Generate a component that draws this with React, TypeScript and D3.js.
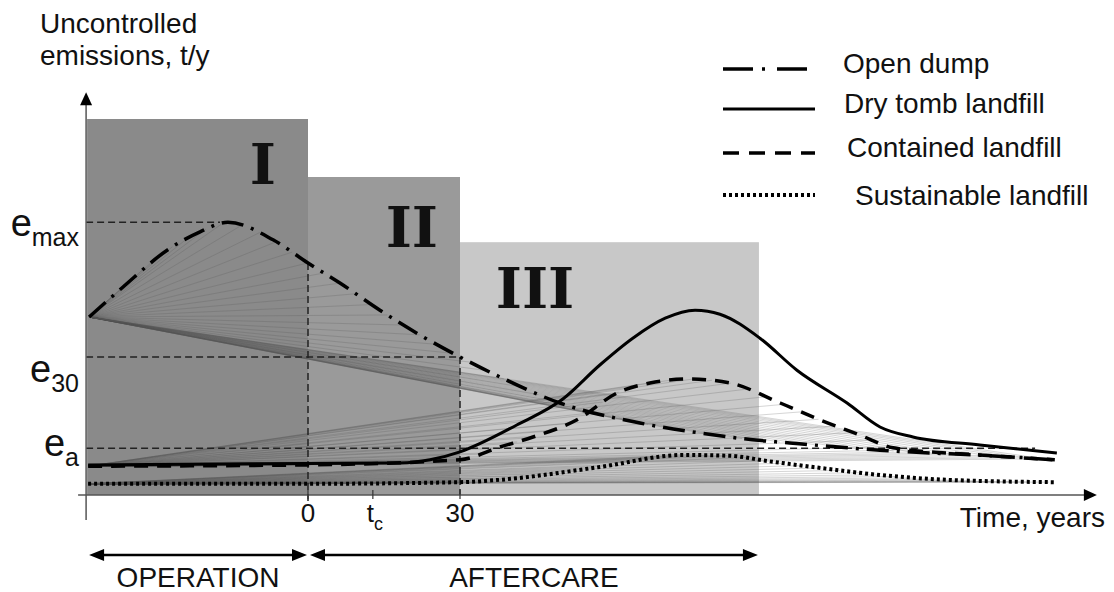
import React, { useRef, useEffect } from "react";
import * as d3 from "d3";

// time in years (0 = end of operation), emissions in arbitrary units (0-100)
const openDump = [
  [-43.2, 44.5], [-36.5, 52], [-27.8, 61.2], [-21.3, 65.8], [-15.8, 68.2],
  [-6.9, 63.8], [0, 58], [6.3, 53], [14.2, 46.2], [22.1, 40], [30, 34.5], [37.9, 29.5],
  [49.7, 23], [65.5, 18], [77.4, 15.5], [87.8, 13.8], [95.1, 13], [112.9, 11.2],
  [139.1, 9.5], [147.4, 8.8],
];
const dryTomb = [
  [-43.4, 7.5], [-11.4, 7.8], [18.2, 8], [24.1, 8.8], [30, 10.8], [41.2, 17.5], [50.3, 24],
  [57.6, 32.5], [64.1, 39.2], [70.5, 44.2], [76.4, 46.2], [81.3, 45.2], [89.2, 39.2],
  [96.5, 31.2], [106.4, 23], [112.9, 17], [119.4, 14.5], [132.6, 12.5], [147.8, 10.5],
];
const contained = [
  [-43.4, 7.2], [-1.6, 7.5], [30, 8.8], [37.9, 12], [44.4, 14.5], [53.1, 18.8], [61, 25.5],
  [67.5, 28], [75.4, 29], [83.3, 28], [93.2, 23], [101, 18.8], [108.9, 15], [115.5, 11.8],
  [132.6, 10], [147.4, 8.8],
];
const sustainable = [
  [-43.4, 2.8], [-1.6, 2.8], [30, 3.2], [37.9, 3.8], [57.6, 7], [74, 10], [83.3, 9.8],
  [90.6, 8.5], [99.7, 7], [112.9, 5], [126.1, 3.8], [147.4, 3.2],
];

const seriesNames = ["Open dump", "Dry tomb landfill", "Contained landfill", "Sustainable landfill"];
const seriesData = [openDump, dryTomb, contained, sustainable];

const phaseNames = ["I", "II", "III"];
const phaseStart = [-43.6, 0, 30];
const phaseEnd = [0, 30, 89];
const phaseTop = [94, 79.5, 63.2];

const eMax = 68.2;
const e30 = 34.5;
const eA = 11.7;
const eAEnd = 143.5;
const tC = 12.8;
const timeEnd = 155.7;
const axisTop = 100.7;

export default function App() {
  const svgRef = useRef(null);

  useEffect(() => {
    document.body.style.margin = "0";
    const svg = d3.select(svgRef.current);
    svg.selectAll("*").remove();

    const width = 1114;
    const height = 592;
    const font = "'Liberation Sans', Arial, sans-serif";

    const x = d3.scaleLinear().domain([0, 30]).range([308, 460]);
    const y = d3.scaleLinear().domain([0, 100]).range([495, 95]);
    const x0 = x(phaseStart[0]) - 1;
    const y0 = y(0);

    svg.attr("width", width).attr("height", height);

    // phases
    const fills = ["#8a8a8a", "#9a9a9a", "#c8c8c8"];
    phaseNames.forEach((p, i) => {
      svg.append("rect")
        .attr("x", x(phaseStart[i]))
        .attr("y", y(phaseTop[i]))
        .attr("width", x(phaseEnd[i]) - x(phaseStart[i]))
        .attr("height", y0 - y(phaseTop[i]))
        .attr("fill", fills[i]);
    });

    const labelT = [-8.9, 20.5, 44.8];
    const labelE = [77.8, 62, 46.8];
    phaseNames.forEach((p, i) => {
      svg.append("text")
        .attr("x", x(labelT[i]))
        .attr("y", y(labelE[i]))
        .attr("text-anchor", "middle")
        .style("font-family", "'DejaVu Serif', serif")
        .style("font-weight", "bold")
        .style("font-size", "56px")
        .attr("fill", "#111")
        .text(p);
    });

    const gFan = svg.append("g");
    const gGuide = svg.append("g");
    const gCurve = svg.append("g");

    // guides
    const guide = (x1, y1, x2, y2) =>
      gGuide.append("line")
        .attr("x1", x1).attr("y1", y1).attr("x2", x2).attr("y2", y2)
        .attr("stroke", "#222").attr("stroke-width", 1.5)
        .attr("stroke-dasharray", "7 4");
    const peak = openDump.find(d => d[1] === d3.max(openDump, e => e[1]));
    guide(x0, y(eMax), x(peak[0]) - 8, y(eMax));
    guide(x0, y(e30), x(30), y(e30));
    guide(x0, y(eA), x(eAEnd), y(eA));
    const atZero = openDump.find(d => d[0] === 0);
    guide(x(0), y(atZero[1]), x(0), y0 + 6);
    guide(x(30), y(e30), x(30), y0);

    // curves
    const line = d3.line()
      .x(d => x(d[0]))
      .y(d => y(d[1]))
      .curve(d3.curveMonotoneX);

    const styles = [
      { w: 3.5, dash: "22 8 3 8", fan: true },
      { w: 3, dash: null, fan: false },
      { w: 3.5, dash: "14 9", fan: true },
      { w: 4, dash: "3 3", fan: true },
    ];

    seriesData.forEach((data, i) => {
      const path = gCurve.append("path")
        .attr("d", line(data))
        .attr("fill", "none")
        .attr("stroke", "#000")
        .attr("stroke-width", styles[i].w)
        .attr("stroke-dasharray", styles[i].dash);

      if (!styles[i].fan) return;
      // thin construction lines fanning out from the start point
      const node = path.node();
      const len = node.getTotalLength();
      const sx = x(data[0][0]);
      const sy = y(data[0][1]);
      for (let l = 14; l < len; l += 19) {
        const p = node.getPointAtLength(l);
        gFan.append("line")
          .attr("x1", sx).attr("y1", sy).attr("x2", p.x).attr("y2", p.y)
          .attr("stroke", "#555")
          .attr("stroke-width", 0.6)
          .attr("opacity", 0.4);
      }
    });

    // axes
    svg.append("line")
      .attr("x1", x0).attr("y1", 520).attr("x2", x0).attr("y2", y(axisTop) + 10)
      .attr("stroke", "#555").attr("stroke-width", 1.5);
    svg.append("path")
      .attr("d", `M${x0},${y(axisTop)} l-6,13 l12,0 Z`)
      .attr("fill", "#000");
    svg.append("line")
      .attr("x1", x0 - 8).attr("y1", y0).attr("x2", x(timeEnd) - 10).attr("y2", y0)
      .attr("stroke", "#555").attr("stroke-width", 1.5);
    svg.append("path")
      .attr("d", `M${x(timeEnd)},${y0} l-13,-6 l0,12 Z`)
      .attr("fill", "#000");

    [0, tC, 30].forEach(t => {
      svg.append("line")
        .attr("x1", x(t)).attr("x2", x(t))
        .attr("y1", y0 - 5).attr("y2", y0 + 4)
        .attr("stroke", "#333").attr("stroke-width", 1.2);
    });

    const tick = svg.append("g")
      .style("font-family", font)
      .style("font-size", "26px")
      .attr("fill", "#111");
    tick.append("text").attr("x", x(0)).attr("y", 522).attr("text-anchor", "middle").text("0");
    tick.append("text").attr("x", x(30)).attr("y", 522).attr("text-anchor", "middle").text("30");
    const tcText = tick.append("text").attr("x", x(tC) - 6).attr("y", 522);
    tcText.append("tspan").text("t");
    tcText.append("tspan").attr("dy", 8).style("font-size", "18px").text("c");

    svg.append("text")
      .attr("x", 1105).attr("y", 527)
      .attr("text-anchor", "end")
      .style("font-family", font).style("font-size", "28px")
      .attr("fill", "#111")
      .text("Time, years");

    // y label
    const yl = svg.append("text")
      .style("font-family", font).style("font-size", "28px")
      .attr("fill", "#111");
    yl.append("tspan").attr("x", 40).attr("y", 33).text("Uncontrolled");
    yl.append("tspan").attr("x", 40).attr("y", 65).text("emissions, t/y");

    // e labels
    const eLabels = [
      { v: eMax, sub: "max", base: 14 },
      { v: e30, sub: "30", base: 25 },
      { v: eA, sub: "a", base: 8 },
    ];
    eLabels.forEach(d => {
      const t = svg.append("text")
        .attr("x", 79).attr("y", y(d.v) + d.base)
        .attr("text-anchor", "end")
        .style("font-family", font)
        .attr("fill", "#111");
      t.append("tspan").style("font-size", "38px").text("e");
      t.append("tspan").attr("dy", 10).style("font-size", "25px").text(d.sub);
    });

    // operation / aftercare arrows
    const bracket = (t1, t2, label) => {
      const a = x(t1) + 2;
      const b = x(t2) - 1;
      const yy = 555;
      svg.append("line")
        .attr("x1", a + 8).attr("x2", b - 8).attr("y1", yy).attr("y2", yy)
        .attr("stroke", "#000").attr("stroke-width", 2.5);
      svg.append("path")
        .attr("d", `M${a},${yy} l15,-6 l0,12 Z M${b},${yy} l-15,-6 l0,12 Z`)
        .attr("fill", "#000");
      svg.append("text")
        .attr("x", (a + b) / 2).attr("y", 587)
        .attr("text-anchor", "middle")
        .style("font-family", font).style("font-size", "28px")
        .attr("fill", "#111")
        .text(label);
    };
    bracket(phaseStart[0], 0, "OPERATION");
    bracket(0, phaseEnd[2], "AFTERCARE");

    // legend
    const legY = [69, 109, 153, 195];
    const legTextX = [843, 844, 847, 855];
    const legTextY = [73, 113, 157, 205];
    seriesNames.forEach((name, i) => {
      svg.append("line")
        .attr("x1", 723).attr("x2", 815)
        .attr("y1", legY[i]).attr("y2", legY[i])
        .attr("stroke", "#000")
        .attr("stroke-width", styles[i].w)
        .attr("stroke-dasharray", i === 0 ? "30 9 3 12" : i === 2 ? "16 10" : styles[i].dash);
      svg.append("text")
        .attr("x", legTextX[i]).attr("y", legTextY[i])
        .style("font-family", font).style("font-size", "28px")
        .attr("fill", "#111")
        .text(name);
    });
  }, []);

  return <svg ref={svgRef} style={{ display: "block" }}></svg>;
}
